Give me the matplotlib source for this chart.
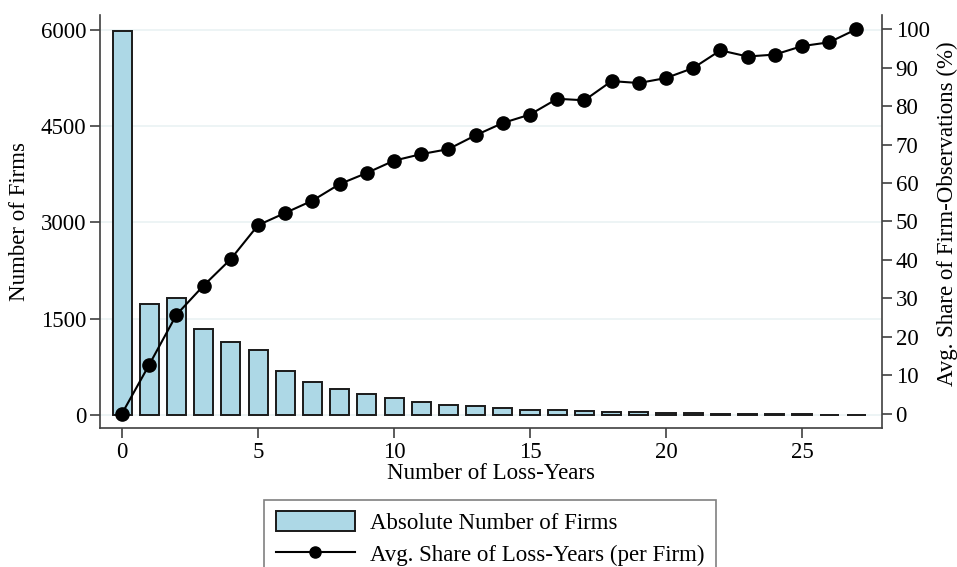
import matplotlib
matplotlib.use("Agg")
import matplotlib.pyplot as plt
from matplotlib.lines import Line2D
from matplotlib.patches import Patch

plt.rcParams['font.family'] = ['Liberation Serif', 'DejaVu Serif']

loss_years = list(range(28))
num_firms = [5990, 1730, 1828, 1340, 1143, 1013, 690, 514, 400, 327, 270,
             207, 156, 145, 104, 83, 80, 62, 52, 42, 28, 25, 15, 10, 12, 8, 6, 5]
avg_share = [0.0, 12.7, 25.7, 33.3, 40.2, 49.0, 52.2, 55.4, 59.7, 62.6, 65.8,
             67.5, 68.8, 72.4, 75.6, 77.8, 81.9, 81.5, 86.5, 86.0, 87.3, 89.9,
             94.5, 92.9, 93.4, 95.6, 96.6, 100.0]
left_ticks = [0, 1500, 3000, 4500, 6000]
right_ticks = list(range(0, 101, 10))
x_ticks = [0, 5, 10, 15, 20, 25]

FS = 16.5
fig = plt.figure(figsize=(9.57, 5.67), dpi=100)
ax = fig.add_axes([100/957, (567-428)/567, (881.7-100)/957, (428-15)/567])
ax2 = ax.twinx()

ax.bar(loss_years, num_firms, width=0.7, color='#add8e6', edgecolor='#1a1a1a',
       linewidth=1.4, zorder=3)
ax.set_ylim(-203, 6234)
ax.set_xlim(-0.81, 27.93)
ax.set_yticks(left_ticks)
ax.set_xticks(x_ticks)
for t in left_ticks:
    ax.axhline(t, color='#eaf2f4', lw=1.2, zorder=1)

ax2.plot(loss_years, avg_share, color='black', lw=1.5, marker='o', markersize=9.5, zorder=4)
ax2.set_ylim(-3.77, 103.7)
ax2.set_yticks(right_ticks)

spine_c = '#404040'
for a in (ax, ax2):
    a.spines['top'].set_visible(False)
    for s in ('left', 'right', 'bottom'):
        a.spines[s].set_color(spine_c)
        a.spines[s].set_linewidth(1.2)
    a.tick_params(labelsize=FS, length=7, width=1.2, color=spine_c, direction='out', pad=3)
ax.spines['right'].set_visible(False)
ax2.spines['left'].set_visible(False)
ax2.spines['bottom'].set_visible(False)

ax.set_xlabel('Number of Loss-Years', fontsize=FS)
ax.set_ylabel('Number of Firms', fontsize=FS)
ax2.set_ylabel('Avg. Share of Firm-Observations (%)', fontsize=FS)
ax.xaxis.set_label_coords(0.5, -0.085)
ax.yaxis.set_label_coords(-0.09, 0.5)
ax2.yaxis.set_label_coords(1.071, 0.52)

handles = [Patch(facecolor='#add8e6', edgecolor='#1a1a1a', linewidth=1.4),
           Line2D([0], [0], color='black', lw=1.5, marker='o', markersize=8)]
labels = ['Absolute Number of Firms', 'Avg. Share of Loss-Years (per Firm)']
leg = fig.legend(handles, labels, loc='upper center',
                 bbox_to_anchor=(490/957, 67/567), fontsize=FS,
                 frameon=True, fancybox=False, edgecolor='#606060',
                 handlelength=3.45, handleheight=0.92, handletextpad=0.65,
                 borderpad=0.5, labelspacing=0.4, borderaxespad=0)
leg.get_frame().set_linewidth(1.2)

fig.savefig('out.png', dpi=100)
